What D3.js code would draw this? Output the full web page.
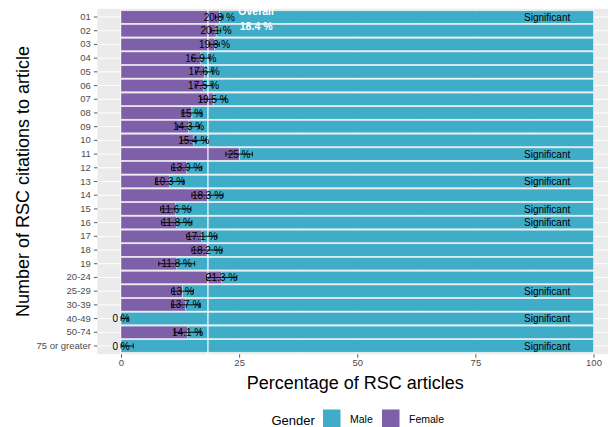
<!DOCTYPE html>
<html>
<head>
<meta charset="utf-8">
<script src="https://cdn.jsdelivr.net/npm/d3@7"></script>
<style>
  body { margin: 0; background: #fff; }
  svg text { font-family: 'Liberation Sans', Arial, sans-serif; }
</style>
</head>
<body>
<svg id="chart" width="608" height="427"></svg>
<script>
// citation count groups, top to bottom
let categories = ['01','02','03','04','05','06','07','08','09','10','11','12','13','14','15','16','17','18','19',
                  '20-24','25-29','30-39','40-49','50-74','75 or greater'];
// percentage of female-authored articles in each group
let female = [20.8, 20.1, 19.8, 16.9, 17.6, 17.5, 19.5, 15, 14.3, 15.4, 25, 13.9, 10.3, 18.3, 11.6, 11.8, 17.1, 18.2, 11.8,
              21.3, 13, 13.7, 0, 14.1, 0];
// error bar bounds (percent)
let errLow  = [20.0, 19.1, 18.8, 15.0, 15.8, 15.7, 16.9, 12.9, 12.0, 12.8, 22.2, 10.7, 7.3, 15.0, 8.4, 8.6, 13.9, 15.0, 8.0,
               18.1, 10.7, 10.7, 0, 11.3, 0];
let errHigh = [21.6, 21.1, 20.8, 18.8, 19.4, 19.3, 22.1, 17.1, 16.6, 18.0, 27.8, 17.1, 13.3, 21.6, 14.8, 15.0, 20.3, 21.4, 15.6,
               24.5, 15.3, 16.7, 1.5, 16.9, 2.6];
let significant = ['01', '11', '13', '15', '16', '25-29', '40-49', '75 or greater'];
let overall = 18.4;
let xTicks = [0, 25, 50, 75, 100];
let legendKeys = ['Male', 'Female'];

let colors = { Male: '#40adc8', Female: '#7d60a8' };

let svg = d3.select('#chart');

// panel area (ggplot style expansion)
let xScale = d3.scaleLinear().domain([0, 100]).range([121, 593.5]);
let panelLeft = xScale(-5),
    panelRight = xScale(105),
    panelTop = 8.8,
    panelBottom = 354.2;

let yScale = d3.scaleBand()
               .domain(categories)
               .range([panelTop, panelBottom])
               .paddingInner(0.1)
               .paddingOuter(0.15);

let bw = yScale.bandwidth();
let cy = d => yScale(d) + bw / 2;

svg.append('defs').append('clipPath')
   .attr('id', 'panel-clip')
   .append('rect')
   .attr('x', panelLeft).attr('y', panelTop)
   .attr('width', panelRight - panelLeft).attr('height', panelBottom - panelTop);

// panel background
svg.append('rect')
   .attr('x', panelLeft).attr('y', panelTop)
   .attr('width', panelRight - panelLeft).attr('height', panelBottom - panelTop)
   .attr('fill', '#ebebeb');

let panel = svg.append('g').attr('clip-path', 'url(#panel-clip)');

// grid lines
panel.selectAll('.minor-x')
     .data([12.5, 37.5, 62.5, 87.5])
     .enter().append('line')
     .attr('x1', d => xScale(d)).attr('x2', d => xScale(d))
     .attr('y1', panelTop).attr('y2', panelBottom)
     .attr('stroke', '#fff').attr('stroke-width', 0.5);

panel.selectAll('.major-x')
     .data(xTicks)
     .enter().append('line')
     .attr('x1', d => xScale(d)).attr('x2', d => xScale(d))
     .attr('y1', panelTop).attr('y2', panelBottom)
     .attr('stroke', '#fff').attr('stroke-width', 1);

panel.selectAll('.major-y')
     .data(categories)
     .enter().append('line')
     .attr('x1', panelLeft).attr('x2', panelRight)
     .attr('y1', d => cy(d)).attr('y2', d => cy(d))
     .attr('stroke', '#fff').attr('stroke-width', 1);

// stacked bars
let rows = categories.map((c, i) => ({ cat: c, f: female[i], lo: errLow[i], hi: errHigh[i] }));

panel.selectAll('.bar-male')
     .data(rows)
     .enter().append('rect')
     .attr('x', d => xScale(d.f))
     .attr('width', d => xScale(100) - xScale(d.f))
     .attr('y', d => yScale(d.cat))
     .attr('height', bw)
     .attr('fill', colors.Male)
     .attr('stroke', '#fff').attr('stroke-width', 0.4);

panel.selectAll('.bar-female')
     .data(rows.filter(d => d.f > 0))
     .enter().append('rect')
     .attr('x', xScale(0))
     .attr('width', d => xScale(d.f) - xScale(0))
     .attr('y', d => yScale(d.cat))
     .attr('height', bw)
     .attr('fill', colors.Female)
     .attr('stroke', '#fff').attr('stroke-width', 0.4);

// overall reference line
panel.append('line')
     .attr('x1', xScale(overall)).attr('x2', xScale(overall))
     .attr('y1', panelTop).attr('y2', panelBottom)
     .attr('stroke', '#fff').attr('stroke-width', 1.2);

// percentage labels
panel.selectAll('.pct')
     .data(rows)
     .enter().append('text')
     .attr('x', d => xScale(d.f))
     .attr('y', d => cy(d.cat) + 3.6)
     .attr('text-anchor', 'middle')
     .style('font-size', '10px')
     .attr('fill', '#000')
     .text(d => d.f + ' %');

// error bars
let capH = bw * 0.4;
let eb = panel.selectAll('.err')
              .data(rows)
              .enter().append('g')
              .attr('stroke', '#000').attr('stroke-width', 0.9);
eb.append('line')
  .attr('x1', d => xScale(d.lo)).attr('x2', d => xScale(d.hi))
  .attr('y1', d => cy(d.cat)).attr('y2', d => cy(d.cat));
eb.append('line')
  .attr('x1', d => xScale(d.lo)).attr('x2', d => xScale(d.lo))
  .attr('y1', d => cy(d.cat) - capH / 2).attr('y2', d => cy(d.cat) + capH / 2);
eb.append('line')
  .attr('x1', d => xScale(d.hi)).attr('x2', d => xScale(d.hi))
  .attr('y1', d => cy(d.cat) - capH / 2).attr('y2', d => cy(d.cat) + capH / 2);

// significance labels
panel.selectAll('.sig')
     .data(significant)
     .enter().append('text')
     .attr('x', xScale(90.2))
     .attr('y', d => cy(d) + 3.6)
     .attr('text-anchor', 'middle')
     .style('font-size', '10px')
     .attr('fill', '#000')
     .text('Significant');

// overall annotation
let ov = panel.append('text')
              .attr('x', xScale(28.6))
              .attr('text-anchor', 'middle')
              .attr('fill', '#fff')
              .style('font-size', '10.5px')
              .style('font-weight', 'bold');
ov.append('tspan').attr('x', xScale(28.6)).attr('y', 14.5).text('Overall');
ov.append('tspan').attr('x', xScale(28.6)).attr('y', 30).text(overall + ' %');

// axes
let xAxis = d3.axisBottom(xScale).tickValues(xTicks).tickFormat(d3.format('d')).tickSize(3.5).tickPadding(2);
let gx = svg.append('g')
            .attr('transform', 'translate(0,' + panelBottom + ')')
            .call(xAxis);

let yAxis = d3.axisLeft(yScale).tickSize(3.5).tickPadding(3);
let gy = svg.append('g')
            .attr('transform', 'translate(' + panelLeft + ',0)')
            .call(yAxis);

[gx, gy].forEach(g => {
    g.select('.domain').remove();
    g.selectAll('.tick line').attr('stroke', '#333').attr('stroke-width', 0.8);
    g.selectAll('.tick text')
     .attr('fill', '#4d4d4d')
     .style('font-size', '9.5px')
     .style('font-family', "'Liberation Sans', Arial, sans-serif");
});

// axis titles
svg.append('text')
   .attr('x', (xScale(-5) + xScale(105)) / 2 - 2)
   .attr('y', 389)
   .attr('text-anchor', 'middle')
   .style('font-size', '18px')
   .attr('fill', '#000')
   .text('Percentage of RSC articles');

svg.append('text')
   .attr('transform', 'translate(29,' + ((panelTop + panelBottom) / 2) + ') rotate(-90)')
   .attr('text-anchor', 'middle')
   .style('font-size', '18px')
   .attr('fill', '#000')
   .text('Number of RSC citations to article');

// legend
let legend = svg.append('g').attr('id', 'legend');
legend.append('text')
      .attr('x', 271.5).attr('y', 424.5)
      .style('font-size', '13px')
      .attr('fill', '#000')
      .text('Gender');

let keyX = [323, 382];
legend.selectAll('.key')
      .data(legendKeys)
      .enter().append('rect')
      .attr('x', (d, i) => keyX[i])
      .attr('y', 409.5)
      .attr('width', 17.5).attr('height', 17.5)
      .attr('fill', d => colors[d]);

legend.selectAll('.key-label')
      .data(legendKeys)
      .enter().append('text')
      .attr('x', (d, i) => keyX[i] + 27)
      .attr('y', 423)
      .style('font-size', '10.5px')
      .attr('fill', '#000')
      .text(d => d);
</script>
</body>
</html>
